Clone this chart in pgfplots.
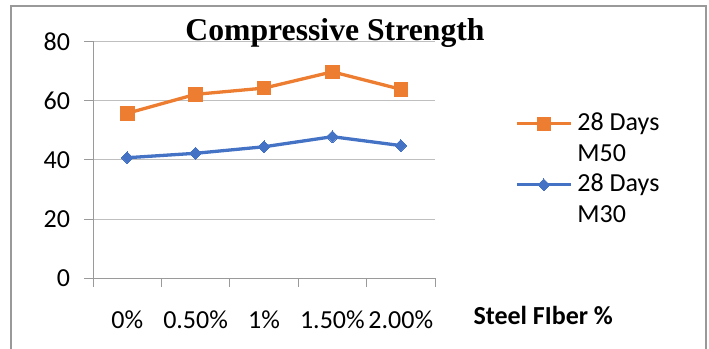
\documentclass[border=0pt]{standalone}
\usepackage{pgfplots}
\pgfplotsset{compat=1.18}
\usepackage{fontspec}
\setmainfont{Carlito}
\newfontfamily\titlefont{Liberation Serif}
\definecolor{cOrange}{HTML}{ED7D31}
\definecolor{cBlue}{HTML}{4472C4}
\definecolor{cGrid}{HTML}{BFBFBF}
\definecolor{cAxis}{HTML}{9A9A9A}
\definecolor{cFrame}{HTML}{999999}
\begin{document}
\begin{tikzpicture}[x=1pt,y=1pt]
\useasboundingbox (0,0) rectangle (709,-348);
\begin{scope}
\clip (0,0) rectangle (709,-348);
\draw[cFrame, line width=2pt] (11,-6) rectangle (705.5,-360);
\end{scope}
\begin{axis}[
  at={(93pt,-278.3pt)}, anchor=south west,
  scale only axis, width=342pt, height=237pt,
  xmin=-0.5, xmax=4.5, ymin=0, ymax=80,
  axis x line=bottom, axis y line=left,
  axis line style={cAxis, line width=1pt, -},
  xtick={-0.5,0.5,1.5,2.5,3.5,4.5}, xticklabels={},
  extra x ticks={0,1,2,3,4},
  extra x tick labels={0\%,0.50\%,1\%,1.50\%,2.00\%},
  extra x tick style={major tick length=0pt, grid=none,
    tick label style={yshift=-29pt}},
  ytick={0,20,40,60,80},
  ymajorgrids, grid style={cGrid, line width=1pt},
  tick align=outside, major tick length=8.5pt,
  tick style={cAxis, line width=1pt},
  tick label style={font=\fontsize{26}{31}\selectfont, text=black},
  /pgf/number format/assume math mode=true,
  yticklabel style={xshift=-11pt},
  clip=false,
  legend style={at={(1.2339,0.7075)}, anchor=north west, draw=none, fill=none,
    font=\fontsize{26}{32}\selectfont, cells={anchor=base west},
    nodes={text height=20pt, text depth=6pt, inner sep=0pt},
    row sep=4.5pt, column sep=5pt, inner sep=0pt},
  legend image code/.code={\path (0pt,0pt); \draw[mark repeat=2,mark phase=2,#1] plot coordinates {(0pt,7pt) (27pt,7pt) (54pt,7pt)};},
]
\addplot[cOrange, line width=3.3pt, mark=square*, mark size=6.8pt, mark options={solid, line width=0pt}]
  coordinates {(0,55.7) (1,62.1) (2,64.2) (3,69.7) (4,63.8)};
\addlegendentry{28 Days}
\addlegendimage{empty legend}
\addlegendentry{M50}
\addplot[cBlue, line width=3.3pt, mark=square*, mark size=4.2pt, mark options={solid, rotate=45, line width=0pt}]
  coordinates {(0,40.7) (1,42.2) (2,44.4) (3,47.8) (4,44.8)};
\addlegendentry{28 Days}
\addlegendimage{empty legend}
\addlegendentry{M30}
\end{axis}
\node[font=\titlefont\bfseries\fontsize{31.7}{36}\selectfont, anchor=base] at (335,-40) {Compressive Strength};
\node[font=\bfseries\fontsize{26}{31}\selectfont, anchor=west] at (470,-315) {Steel FIber \%};
\end{tikzpicture}
\end{document}
